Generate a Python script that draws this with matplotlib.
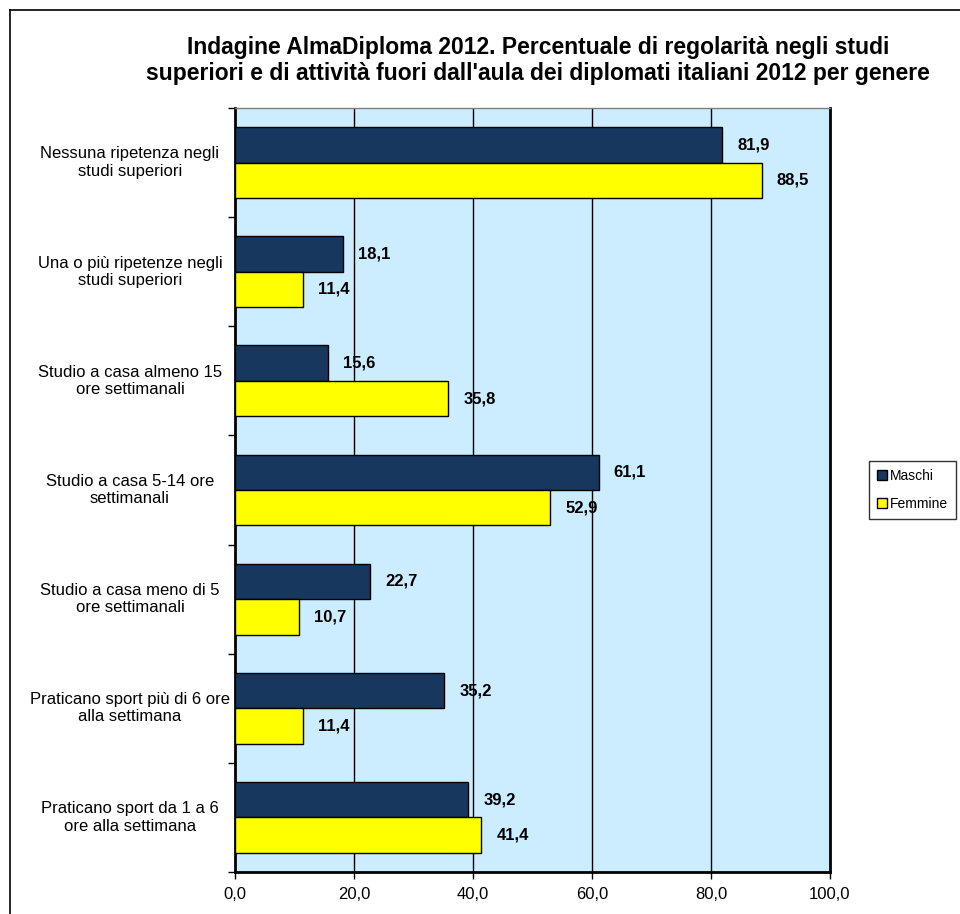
import matplotlib.pyplot as plt
from matplotlib.lines import Line2D
from matplotlib.patches import Patch

plt.rcParams['font.family'] = ['Liberation Sans', 'DejaVu Sans']

categories = [
    'Nessuna ripetenza negli\nstudi superiori',
    'Una o più ripetenze negli\nstudi superiori',
    'Studio a casa almeno 15\nore settimanali',
    'Studio a casa 5-14 ore\nsettimanali',
    'Studio a casa meno di 5\nore settimanali',
    'Praticano sport più di 6 ore\nalla settimana',
    'Praticano sport da 1 a 6\nore alla settimana',
]
maschi = [81.9, 18.1, 15.6, 61.1, 22.7, 35.2, 39.2]
femmine = [88.5, 11.4, 35.8, 52.9, 10.7, 11.4, 41.4]
xticks = [0, 20, 40, 60, 80, 100]

title = ("Indagine AlmaDiploma 2012. Percentuale di regolarità negli studi\n"
         "superiori e di attività fuori dall'aula dei diplomati italiani 2012 per genere")

c_m = '#17375E'
c_f = '#FFFF00'

fig = plt.figure(figsize=(9.6, 9.14), dpi=100)
ax = fig.add_axes([235 / 960, 42 / 914, 595 / 960, 764 / 914])
ax.set_facecolor('#CCECFF')

h = 0.325
pos = list(range(len(categories)))
ax.barh([p - h / 2 for p in pos], maschi, height=h, color=c_m,
        edgecolor='black', linewidth=1, zorder=3, label='Maschi')
ax.barh([p + h / 2 for p in pos], femmine, height=h, color=c_f,
        edgecolor='black', linewidth=1, zorder=3, label='Femmine')

# value labels
for p, v in zip(pos, maschi):
    ax.annotate(f'{v:.1f}'.replace('.', ','), (v, p - h / 2), xytext=(11, 0),
                textcoords='offset points', va='center', ha='left',
                fontsize=12, fontweight='bold')
for p, v in zip(pos, femmine):
    ax.annotate(f'{v:.1f}'.replace('.', ','), (v, p + h / 2), xytext=(11, 0),
                textcoords='offset points', va='center', ha='left',
                fontsize=12, fontweight='bold')

ax.set_xlim(0, 100)
ax.set_ylim(len(categories) - 0.5, -0.5)
ax.set_xticks(xticks)
ax.set_xticklabels([f'{t:.1f}'.replace('.', ',') for t in xticks], fontsize=12)
ax.set_yticks([i - 0.5 for i in range(len(categories) + 1)])
ax.set_yticklabels([])
ax.tick_params(axis='both', direction='out', length=5, width=1, color='black')
ax.tick_params(axis='x', pad=6)

for x in xticks[1:-1]:
    ax.axvline(x, color='black', linewidth=1, zorder=1)

for s in ['left', 'bottom', 'right']:
    ax.spines[s].set_linewidth(2)
    ax.spines[s].set_color('black')
ax.spines['top'].set_linewidth(1)
ax.spines['top'].set_color('#808080')

# category labels
for p, lab in zip(pos, categories):
    ax.text(-0.1765, p, lab, transform=ax.get_yaxis_transform(),
            ha='center', va='center', multialignment='center', fontsize=12)

fig.text(538 / 960, 1 - 36 / 914, title, ha='center', va='top',
         fontsize=16.5, fontweight='bold', linespacing=1.15)

handles = [Patch(facecolor=c_m, edgecolor='black'),
           Patch(facecolor=c_f, edgecolor='black')]
leg = fig.legend(handles, ['Maschi', 'Femmine'], loc='center left',
                 bbox_to_anchor=(869 / 960, 1 - 490 / 914), fontsize=10,
                 frameon=True, fancybox=False, edgecolor='black',
                 handlelength=0.7, handleheight=0.7, handletextpad=0.2,
                 borderpad=0.6, labelspacing=1.0, borderaxespad=0)
leg.get_frame().set_linewidth(1)

# outer chart border
fig.add_artist(Line2D([10 / 960, 10 / 960], [0, 1 - 10 / 914], color='black', lw=1.2))
fig.add_artist(Line2D([10 / 960, 1], [1 - 10 / 914, 1 - 10 / 914], color='black', lw=1.2))

plt.savefig('out.png', dpi=100)
